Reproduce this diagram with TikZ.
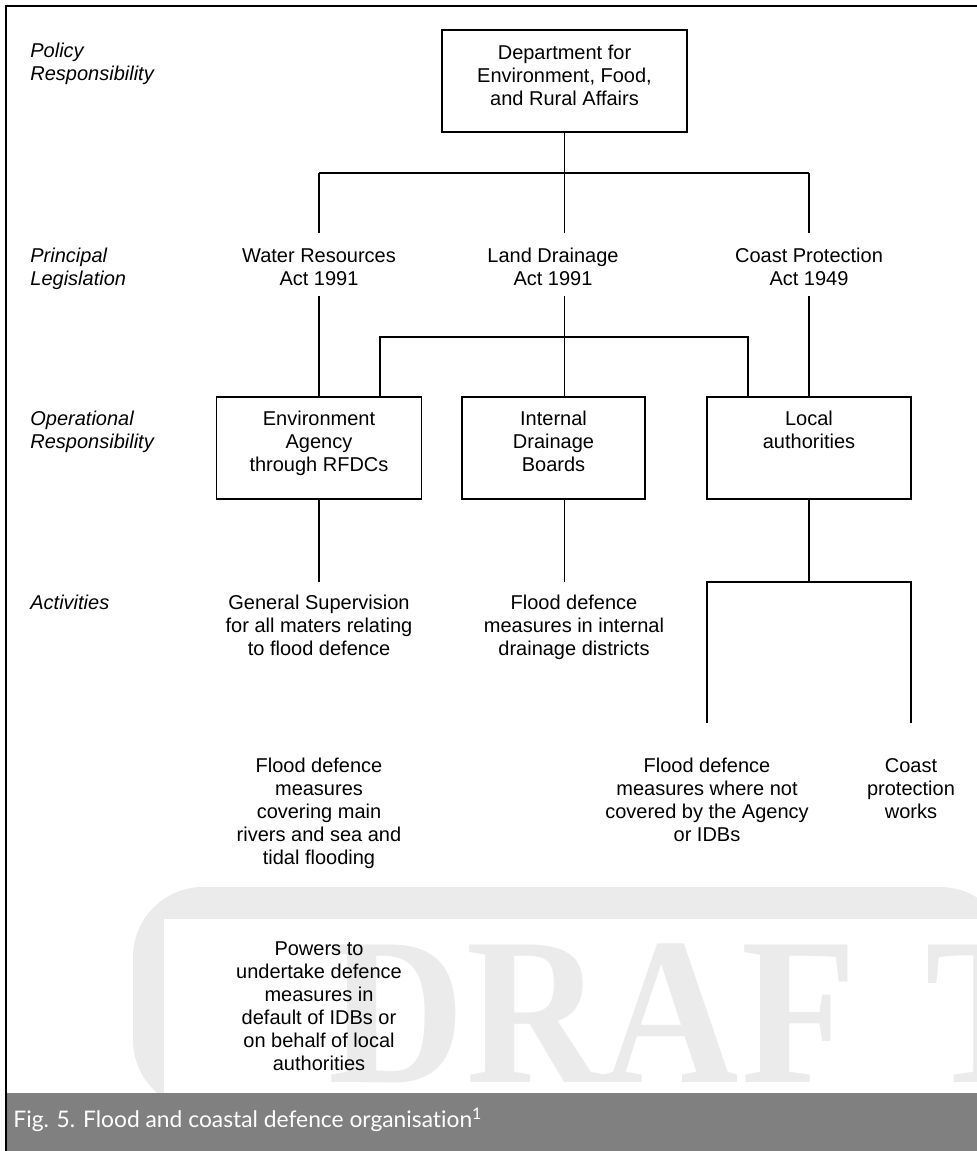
\documentclass[tikz,border=0pt]{standalone}
\usepackage{fontspec}
\setmainfont{Liberation Sans}
\newfontfamily\capfont{Lato}[Ligatures=NoCommon]
\newfontfamily\wmfont{Liberation Serif}
\usetikzlibrary{positioning}
\definecolor{capgrey}{RGB}{128,128,128}
\definecolor{wmgrey}{RGB}{235,235,235}

\begin{document}
\begin{tikzpicture}[x=0.5pt,y=-0.5pt,
  orgbox/.style={draw, line width=0.9pt, inner sep=0pt, outer sep=0pt, minimum height=51pt},
  txt/.style={font=\fontsize{10}{11.5}\selectfont, align=center, inner sep=0pt, anchor=north},
  side/.style={font=\fontsize{10}{11.5}\selectfont\itshape, align=left, inner sep=0pt, anchor=north west},
  link/.style={line width=0.9pt}]

\useasboundingbox (0,0) rectangle (977,1151);
\clip (0,0) rectangle (977,1151);

% watermark
\fill[wmgrey, rounded corners=35] (133,1110) -- (133,887) -- (1010,887) -- (1010,1110) -- cycle;
\fill[white] (164,919) rectangle (1010,1093);
\node[font=\wmfont\bfseries\fontsize{105}{105}\selectfont, text=wmgrey, anchor=base west, inner sep=0pt, xscale=0.9] (draft) at (328,1082) {D\kern1pt R\kern0pt A\kern1pt F\kern38pt T};

% caption bar
\fill[capgrey] (6,1093) rectangle (977,1151);
\node[font=\capfont\fontsize{11.4}{13}\selectfont, text=white, anchor=base west, inner sep=0pt] (caption) at (13,1127) {Fig. 5. Flood and coastal defence organisation\textsuperscript{1}};

% frame
\draw[line width=1.4pt] (6,1151) -- (6,6) -- (977,6);

% row headings
\node[side] (policy) at (30,43) {Policy\\Responsibility};
\node[side] (legis) at (30,248) {Principal\\Legislation};
\node[side] (oper) at (30,411) {Operational\\Responsibility};
\node[side] (activ) at (30,595) {Activities};

% department
\node[orgbox, minimum width=122.5pt] (defra) at (564.5,81) {};
\node[txt] (defratext) at (564.5,45) {Department for\\Environment, Food,\\and Rural Affairs};

% acts
\node[txt] (wra) at (319,248) {Water Resources\\Act 1991};
\node[txt] (lda) at (553,248) {Land Drainage\\Act 1991};
\node[txt] (cpa) at (809,248) {Coast Protection\\Act 1949};

% operating bodies
\node[orgbox, minimum width=102.5pt] (ea) at (319,448) {};
\node[orgbox, minimum width=91.5pt] (idb) at (553.5,448) {};
\node[orgbox, minimum width=102pt] (la) at (809,448) {};
\node[txt] (eatext) at (319,411) {Environment\\Agency\\through RFDCs};
\node[txt] (idbtext) at (553.5,411) {Internal\\Drainage\\Boards};
\node[txt] (latext) at (809,411) {Local\\authorities};

% activities
\node[txt] (supervise) at (319,595) {General Supervision\\for all maters relating\\to flood defence};
\node[txt] (idbact) at (574,595) {Flood defence\\measures in internal\\drainage districts};
\node[txt] (mainriv) at (319,758) {Flood defence\\measures\\covering main\\rivers and sea and\\tidal flooding};
\node[txt] (laflood) at (707,758) {Flood defence\\measures where not\\covered by the Agency\\or IDBs};
\node[txt] (coastwk) at (911,758) {Coast\\protection\\works};
\node[txt] (powers) at (319,941) {Powers to\\undertake defence\\measures in\\default of IDBs or\\on behalf of local\\authorities};

% junctions
\coordinate (bar1) at (564.5,173);
\coordinate (bar2) at (564.5,337);
\coordinate (bar3) at (809,582);

% connectors
\draw[link] (defra.south) -- (bar1);
\draw[link] (wra.north |- bar1) -- (cpa.north |- bar1);
\draw[link, shorten >=7.5pt] (wra.north |- bar1) -- (wra.north);
\draw[link, shorten >=7.5pt] (bar1) -- (bar1 |- lda.north);
\draw[link, shorten >=7.5pt] (cpa.north |- bar1) -- (cpa.north);

\draw[link, shorten <=5pt] (wra.south) -- (ea.north);
\draw[link, shorten <=5pt] (bar1 |- lda.south) -- (bar1 |- idb.north);
\draw[link, shorten <=5pt] (cpa.south) -- (la.north);
\draw[link] ([xshift=30.5pt]ea.north) |- (bar2) -| ([xshift=-30.5pt]la.north);

\draw[link, shorten >=6.5pt] (ea.south) -- (supervise.north);
\draw[link, shorten >=6.5pt] (bar1 |- idb.south) -- (bar1 |- idbact.north);
\draw[link] (la.south) -- (bar3);
\draw[link, shorten <=17.5pt, shorten >=17.5pt] (laflood.north) |- (bar3) -| (coastwk.north);
\end{tikzpicture}
\end{document}
